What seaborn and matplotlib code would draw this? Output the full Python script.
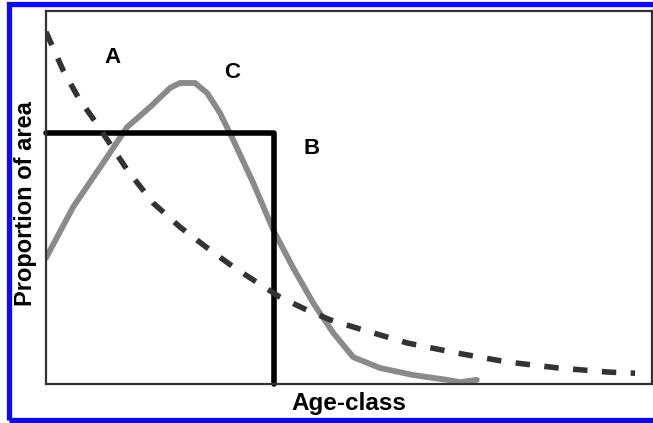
import numpy as np
import pandas as pd
import matplotlib
matplotlib.use('Agg')
import matplotlib.pyplot as plt
import seaborn as sns
from matplotlib.patches import Rectangle

# curve A: dashed, decreasing proportion with age
a_x = [0, 2.8, 5.3, 8.6, 13.4, 17.7, 22.1, 26.6, 30.9, 34.2, 38.6, 43.1,
       46.9, 51.3, 59.6, 67.8, 76.1, 84.5, 92.7, 97.2]
a_y = [0.944, 0.842, 0.769, 0.692, 0.574, 0.485, 0.421, 0.365, 0.314, 0.279,
       0.233, 0.198, 0.172, 0.150, 0.110, 0.083, 0.059, 0.043, 0.032, 0.029]

# curve B: uniform step
b_x = [0, 37.6, 37.6]
b_y = [0.673, 0.673, 0.0]

# curve C: hump-shaped
c_x = [0, 4.5, 10.1, 13.4, 17.2, 20.5, 22.1, 24.6, 26.6, 28.7, 30.9, 34.2,
       37.5, 40.8, 44.1, 47.4, 50.7, 55.1, 60.6, 66.2, 68.3, 71.1]
c_y = [0.338, 0.475, 0.609, 0.689, 0.743, 0.794, 0.807, 0.807, 0.780, 0.727,
       0.654, 0.539, 0.413, 0.311, 0.217, 0.137, 0.072, 0.043, 0.024, 0.011,
       0.005, 0.011]

labels = ['A', 'B', 'C']
label_x = [10.9, 43.8, 30.7]
label_y = [0.874, 0.632, 0.836]

sns.set_style('white')
plt.rcParams['font.family'] = ['Liberation Sans', 'DejaVu Sans']

fig, ax = plt.subplots(figsize=(6.53, 4.23), dpi=100)
fig.subplots_adjust(left=0.0704, right=0.9985, bottom=0.0922, top=0.974)

df_a = pd.DataFrame({'age': a_x, 'prop': a_y})
df_b = pd.DataFrame({'age': b_x, 'prop': b_y})
df_c = pd.DataFrame({'age': c_x, 'prop': c_y})

sns.lineplot(data=df_c, x='age', y='prop', ax=ax, sort=False, estimator=None,
             color='#8a8a8a', linewidth=4.2)
sns.lineplot(data=df_b, x='age', y='prop', ax=ax, sort=False, estimator=None,
             color='black', linewidth=4.0, clip_on=False)
sns.lineplot(data=df_a, x='age', y='prop', ax=ax, sort=False, estimator=None,
             color='#333333', linewidth=4.0, linestyle=(0, (2.6, 2.6)))

for lab, lx, ly in zip(labels, label_x, label_y):
    ax.text(lx, ly, lab, fontsize=16, fontweight='bold', ha='center',
            va='center', color='black')

ax.set_xlim(0, 100)
ax.set_ylim(0, 1)
ax.set_xticks([])
ax.set_yticks([])
ax.set_xlabel('Age-class', fontsize=17.5, fontweight='bold', labelpad=6,
              color='black')
ax.set_ylabel('Proportion of area', fontsize=17, fontweight='bold',
              color='black')
ax.yaxis.set_label_coords(-0.015, 0.485)
for s in ax.spines.values():
    s.set_color('#333333')
    s.set_linewidth(1.6)

# blue frame around the figure
fig.add_artist(Rectangle((8.5 / 653, 3.0 / 423), 1.05, 1 - 7.5 / 423,
                         transform=fig.transFigure, fill=False,
                         edgecolor='#0a0aff', linewidth=3.8, clip_on=False))

fig.savefig('out.png', dpi=100)
